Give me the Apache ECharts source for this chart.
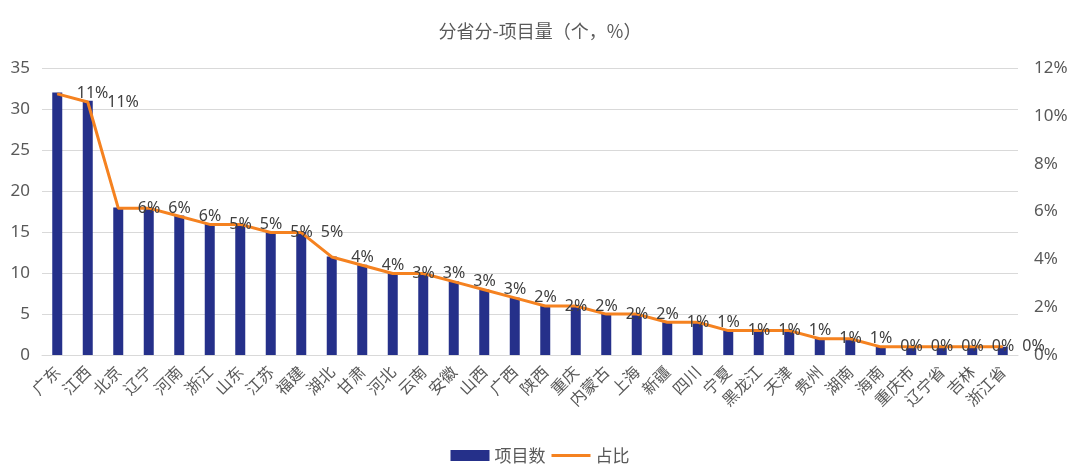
<!DOCTYPE html>
<html><head><meta charset="utf-8">
<script src="https://cdn.jsdelivr.net/npm/echarts@6/dist/echarts.min.js"></script>
<style>html,body{margin:0;padding:0;background:#fff}#c{width:1080px;height:476px}</style>
</head><body><div id="c"></div>
<script>
const categories = ['广东','江西','北京','辽宁','河南','浙江','山东','江苏','福建','湖北','甘肃','河北','云南','安徽','山西','广西','陕西','重庆','内蒙古','上海','新疆','四川','宁夏','黑龙江','天津','贵州','湖南','海南','重庆市','辽宁省','吉林','浙江省'];
const projectCounts = [32,31,18,18,17,16,16,15,15,12,11,10,10,9,8,7,6,6,5,5,4,4,3,3,3,2,2,1,1,1,1,1];
const shareValues = [0.1092,0.1058,0.0614,0.0614,0.0580,0.0546,0.0546,0.0512,0.0512,0.0410,0.0375,0.0341,0.0341,0.0307,0.0273,0.0239,0.0205,0.0205,0.0171,0.0171,0.0137,0.0137,0.0102,0.0102,0.0102,0.0068,0.0068,0.0034,0.0034,0.0034,0.0034,0.0034];
const leftTicks = {min:0,max:35,interval:5};
const rightTicks = {min:0,max:0.12,interval:0.02};

const font = '"Noto Sans", "Noto Sans CJK SC", sans-serif';
const cjk = '"Noto Sans CJK SC", "Noto Sans", sans-serif';
const chart = echarts.init(document.getElementById('c'), null, {renderer:'canvas'});
chart.setOption({
  animation:false,
  textStyle:{fontFamily:font},
  title:{text:'分省分-项目量（个，%）',left:'center',top:17,textStyle:{fontSize:18,fontWeight:'normal',color:'#595959',fontFamily:cjk}},
  legend:{bottom:7,left:'center',itemWidth:39,itemHeight:11,itemGap:6,
    textStyle:{fontSize:17,color:'#595959',fontFamily:cjk},
    data:[{name:'项目数',icon:'rect'},{name:'占比',icon:'path://M0,0 L40,0 L40,3 L0,3 Z'}]},
  grid:{left:42,right:62,top:68,bottom:121,containLabel:false},
  xAxis:{type:'category',data:categories,
    axisLine:{lineStyle:{color:'#d9d9d9'}},axisTick:{show:false},
    axisLabel:{rotate:45,interval:0,fontSize:16,color:'#595959',margin:14,fontFamily:cjk}},
  yAxis:[
    {type:'value',min:leftTicks.min,max:leftTicks.max,interval:leftTicks.interval,
     axisLine:{show:false},axisTick:{show:false},
     splitLine:{lineStyle:{color:'#d9d9d9'}},
     axisLabel:{fontSize:17,color:'#595959',margin:12,fontFamily:font}},
    {type:'value',min:rightTicks.min,max:rightTicks.max,interval:rightTicks.interval,
     axisLine:{show:false},axisTick:{show:false},splitLine:{show:false},
     axisLabel:{fontSize:17,color:'#595959',margin:16,fontFamily:font,
       formatter:v=>Math.round(v*100)+'%'}}
  ],
  series:[
    {name:'项目数',type:'bar',data:projectCounts,barWidth:10,yAxisIndex:0,
     itemStyle:{color:'#25308a'}},
    {name:'占比',type:'line',data:shareValues,yAxisIndex:1,
     symbol:'circle',symbolSize:1,showSymbol:true,
     lineStyle:{color:'#f58220',width:3},itemStyle:{color:'#f58220'},
     label:{show:true,position:'right',distance:19,fontSize:16,color:'#404040',fontFamily:font,
       formatter:p=>Math.round(p.value*100)+'%'}}
  ]
});
</script></body></html>
